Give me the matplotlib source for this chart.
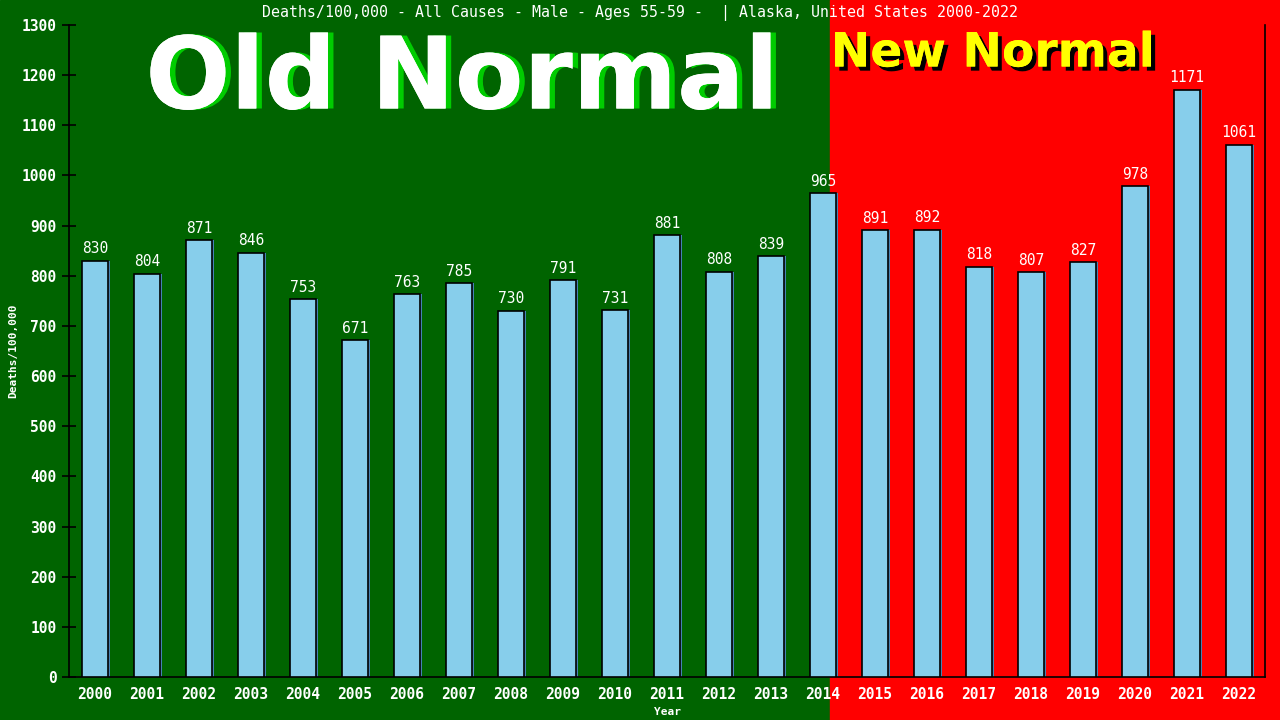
import matplotlib
matplotlib.use('Agg')
import matplotlib.pyplot as plt
import matplotlib.patheffects as pe
from matplotlib.patches import Rectangle
import numpy as np

# data
years = [str(y) for y in range(2000, 2023)]
deaths = [830, 804, 871, 846, 753, 671, 763, 785, 730, 791, 731, 881,
          808, 839, 965, 891, 892, 818, 807, 827, 978, 1171, 1061]
yticks = list(range(0, 1301, 100))

title = 'Deaths/100,000 - All Causes - Male - Ages 55-59 -  | Alaska, United States 2000-2022'

fig = plt.figure(figsize=(12.8, 7.2), dpi=100)

# two-colour background (split just after 2014 bar center)
split = 830 / 1280
fig.patches.append(Rectangle((0, 0), split, 1, transform=fig.transFigure,
                             color='#006400', zorder=-10))
fig.patches.append(Rectangle((split, 0), 1 - split, 1, transform=fig.transFigure,
                             color='#ff0000', zorder=-10))

ax = fig.add_axes([69 / 1280, 43 / 720, 1196 / 1280, 652 / 720])
ax.set_facecolor('none')

x = np.arange(len(years))
# thin blue shadow behind bars
ax.bar(x + 0.03, deaths, width=0.5, color='#4682b4', zorder=2)
ax.bar(x, deaths, width=0.5, color='#87ceeb', edgecolor='black', linewidth=1.2, zorder=3)

for xi, v in zip(x, deaths):
    ax.text(xi, v + 9, str(v), ha='center', va='bottom', color='white',
            fontsize=10.5, family='DejaVu Sans Mono', zorder=4)

ax.set_xlim(-0.5, len(years) - 0.5)
ax.set_ylim(0, 1300)
ax.set_xticks(x)
ax.set_xticklabels(years)
ax.set_yticks(yticks)
ax.tick_params(axis='x', length=0, colors='white', labelsize=10.5, pad=7)
ax.tick_params(axis='y', direction='inout', length=10, color='black', width=1.2,
               labelcolor='white', labelsize=10.5, pad=4)
for lab in ax.get_xticklabels() + ax.get_yticklabels():
    lab.set_family('DejaVu Sans Mono')
    lab.set_fontweight('bold')

ax.spines['top'].set_visible(False)
for s in ['left', 'bottom', 'right']:
    ax.spines[s].set_color('black')
    ax.spines[s].set_linewidth(1.2)

ax.set_xlabel('Year', color='white', fontsize=8, family='DejaVu Sans Mono',
              fontweight='bold', labelpad=4)
fig.text(13 / 1280, 1 - 351 / 720, 'Deaths/100,000', rotation=90, ha='center', va='center',
         color='white', fontsize=8, family='DejaVu Sans Mono', fontweight='bold')

fig.text(0.5, 1 - 13 / 720, title, ha='center', va='center', color='white',
         fontsize=10.7, family='DejaVu Sans Mono')

fig.text(462 / 1280, 1 - 81 / 720, 'Old Normal', ha='center', va='center',
         color='white', fontsize=72, fontweight='bold', family='DejaVu Sans',
         path_effects=[pe.withSimplePatchShadow(offset=(4, 0), shadow_rgbFace='#00cc00', alpha=1.0),
                       pe.Normal()])
fig.text(993 / 1280, 1 - 54 / 720, 'New Normal', ha='center', va='center',
         color='#ffff00', fontsize=34, fontweight='bold', family='DejaVu Sans',
         path_effects=[pe.withSimplePatchShadow(offset=(3, -3), shadow_rgbFace='black', alpha=1.0),
                       pe.Normal()])

fig.savefig('out.png', dpi=100)
